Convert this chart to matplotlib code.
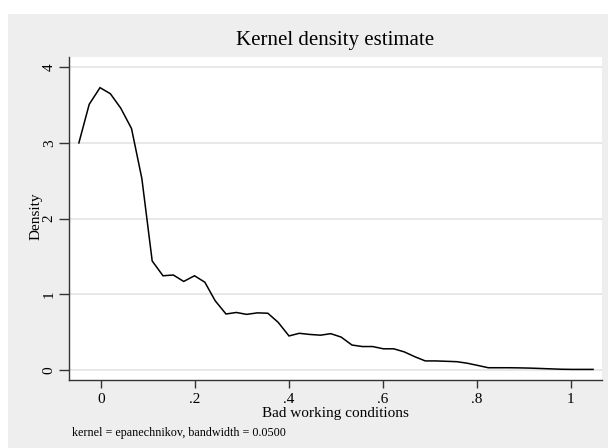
import matplotlib
matplotlib.use("Agg")
import matplotlib.pyplot as plt
from matplotlib.patches import Rectangle

# Evaluation points (Stata kdensity, 50 points)
x_vals = [-0.047, -0.025, -0.002, 0.020, 0.042, 0.065, 0.087, 0.109, 0.132, 0.154,
          0.176, 0.199, 0.221, 0.243, 0.266, 0.288, 0.310, 0.333, 0.355, 0.377,
          0.400, 0.422, 0.444, 0.467, 0.489, 0.511, 0.534, 0.556, 0.578, 0.601,
          0.623, 0.645, 0.668, 0.690, 0.712, 0.735, 0.757, 0.779, 0.802, 0.824,
          0.846, 0.869, 0.891, 0.913, 0.936, 0.958, 0.980, 1.003, 1.025, 1.047]
density = [3.00, 3.51, 3.73, 3.65, 3.46, 3.19, 2.53, 1.44, 1.245, 1.255,
           1.17, 1.245, 1.16, 0.915, 0.74, 0.76, 0.735, 0.755, 0.75, 0.63,
           0.45, 0.485, 0.47, 0.46, 0.48, 0.435, 0.33, 0.31, 0.31, 0.28,
           0.28, 0.24, 0.175, 0.12, 0.12, 0.115, 0.11, 0.09, 0.06, 0.03,
           0.03, 0.03, 0.028, 0.025, 0.02, 0.015, 0.01, 0.008, 0.008, 0.008]

x_ticks = [0, 0.2, 0.4, 0.6, 0.8, 1.0]
x_ticklabels = ["0", ".2", ".4", ".6", ".8", "1"]
y_ticks = [0, 1, 2, 3, 4]
y_ticklabels = ["0", "1", "2", "3", "4"]

title = "Kernel density estimate"
xlabel = "Bad working conditions"
ylabel = "Density"
note = "kernel = epanechnikov, bandwidth = 0.0500"

plt.rcParams['font.family'] = ['Liberation Serif', 'DejaVu Serif']

W, H = 608, 448
fig = plt.figure(figsize=(W / 100, H / 100), dpi=100)
fig.patch.set_facecolor("white")
bg = "#EEEEEE"
fig.patches.append(Rectangle((8 / W, 0), 1 - 8 / W, 1 - 14 / H, transform=fig.transFigure,
                             facecolor=bg, edgecolor="none", zorder=-10))

ax = fig.add_axes([69 / W, 1 - 380 / H, (602 - 69) / W, (380 - 57) / H])
ax.set_facecolor("white")
ax.plot(x_vals, density, color="black", lw=1.1, solid_joinstyle="miter")

ax.set_xlim(-0.068, 1.066)
ax.set_ylim(-0.132, 4.135)
ax.set_xticks(x_ticks)
ax.set_xticklabels(x_ticklabels, fontsize=11)
ax.set_yticks(y_ticks)
ax.set_yticklabels(y_ticklabels, fontsize=11, rotation=90, va="center")
ax.grid(axis="y", color="#E8E8E8", lw=1.4)
ax.set_axisbelow(True)
for s in ["top", "right"]:
    ax.spines[s].set_visible(False)
for s in ["left", "bottom"]:
    ax.spines[s].set_color("#333333")
    ax.spines[s].set_linewidth(1.0)
ax.tick_params(axis="x", length=6, width=1, color="#333333", pad=3)
ax.tick_params(axis="y", length=7.5, width=1, color="#333333", pad=2)

fig.text(335.5 / W, 1 - 40 / H, title, ha="center", va="center", fontsize=15)
fig.text(335.5 / W, 1 - 413 / H, xlabel, ha="center", va="center", fontsize=11)
fig.text(36 / W, 1 - 216 / H, ylabel, ha="center", va="center", rotation=90, fontsize=11)
fig.text(72 / W, 1 - 433 / H, note, ha="left", va="center", fontsize=8.7)

fig.savefig("out.png", dpi=100, facecolor=fig.get_facecolor())
